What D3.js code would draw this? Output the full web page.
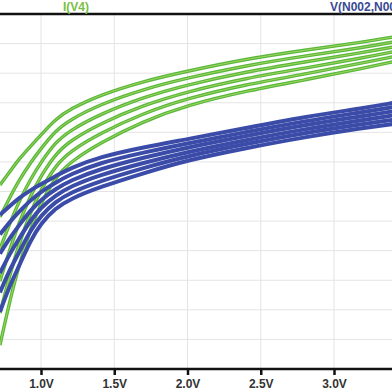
<!DOCTYPE html>
<html>
<head>
<meta charset="utf-8">
<script src="https://cdn.jsdelivr.net/npm/d3@7"></script>
<style>
  body { margin: 0; background: #fff; }
  svg { display: block; }
</style>
</head>
<body>
<div id="chart"></div>
<script>
// sweep voltage (V)
const volts = [0.72, 0.78, 0.85, 0.93, 1.0, 1.1, 1.2, 1.4, 1.7, 2.0, 2.4, 2.8, 3.2, 3.4]

// I(V4) family
const green1 = [62.2, 66.2, 71.0, 75.4, 79.1, 84.5, 87.9, 92.6, 97.3, 100.7, 104.8, 107.8, 110.5, 112.2]
const green2 = [51.4, 57.3, 63.8, 69.9, 74.5, 80.6, 84.3, 89.4, 94.6, 98.4, 102.6, 105.8, 108.7, 110.5]
const green3 = [40.6, 48.4, 56.7, 64.3, 69.9, 76.7, 80.7, 86.1, 91.9, 96.1, 100.5, 103.8, 107.0, 108.8]
const green4 = [29.7, 39.4, 49.5, 58.8, 65.3, 72.7, 77.2, 82.9, 89.2, 93.8, 98.3, 101.7, 105.2, 107.2]
const green5 = [18.9, 30.5, 42.4, 53.2, 60.7, 68.8, 73.6, 79.6, 86.5, 91.5, 96.2, 99.7, 103.5, 105.5]
const green6 = [8.1, 21.6, 35.2, 47.7, 56.1, 64.9, 70.0, 76.4, 83.8, 89.2, 94.0, 97.7, 101.7, 103.8]

// V(N002,N003) family
const blue1 = [52.1, 54.8, 57.8, 60.5, 62.5, 65.2, 67.9, 71.7, 75.0, 77.7, 81.5, 85.2, 88.2, 89.9]
const blue2 = [45.5, 49.3, 53.2, 57.1, 59.9, 63.0, 65.8, 69.7, 73.2, 76.3, 80.1, 83.8, 86.9, 88.5]
const blue3 = [39.0, 43.8, 48.6, 53.7, 57.2, 60.9, 63.7, 67.6, 71.5, 74.9, 78.8, 82.5, 85.5, 87.1]
const blue4 = [32.4, 38.4, 44.0, 50.4, 54.6, 58.7, 61.7, 65.6, 69.7, 73.4, 77.4, 81.1, 84.2, 85.7]
const blue5 = [25.9, 32.9, 39.4, 47.0, 51.9, 56.6, 59.6, 63.5, 68.0, 72.0, 76.1, 79.8, 82.8, 84.2]
const blue6 = [19.3, 27.4, 34.8, 43.6, 49.3, 54.4, 57.5, 61.5, 66.2, 70.6, 74.7, 78.4, 81.5, 82.8]

const xTicks = [1.0, 1.5, 2.0, 2.5, 3.0]
const yGrid = [10, 20, 30, 40, 50, 60, 70, 80, 90, 100, 110]

const width = 392
const height = 392
const plotTop = 14
const plotBottom = 369

const svg = d3.select("#chart")
  .append("svg")
  .attr("width", width)
  .attr("height", height)

const x = d3.scaleLinear()
  .domain([1, 3])
  .range([41, 334])

const y = d3.scaleLinear()
  .domain([0, 120])
  .range([plotBottom, plotTop])

svg.append("clipPath")
  .attr("id", "plot")
  .append("rect")
  .attr("x", 0).attr("y", plotTop)
  .attr("width", width).attr("height", plotBottom - plotTop)

// grid
svg.append("g")
  .selectAll("line")
  .data(yGrid)
  .join("line")
  .attr("x1", 0).attr("x2", width)
  .attr("y1", d => y(d)).attr("y2", d => y(d))
  .attr("stroke", "#e4e4e4")

svg.append("g")
  .selectAll("line")
  .data(xTicks)
  .join("line")
  .attr("x1", d => x(d)).attr("x2", d => x(d))
  .attr("y1", plotTop).attr("y2", plotBottom)
  .attr("stroke", "#e4e4e4")

const line = d3.line()
  .x((d, i) => x(volts[i]))
  .y(d => y(d))
  .curve(d3.curveBasis)

const plot = svg.append("g").attr("clip-path", "url(#plot)")

const greens = [green1, green2, green3, green4, green5, green6]
const blues = [blue1, blue2, blue3, blue4, blue5, blue6]

plot.selectAll("path.g")
  .data(greens)
  .join("path")
  .attr("class", "g")
  .attr("d", line)
  .attr("fill", "none")
  .attr("stroke", "#58b83a")
  .attr("stroke-width", 3.4)

plot.selectAll("path.gh")
  .data(greens)
  .join("path")
  .attr("class", "gh")
  .attr("d", line)
  .attr("fill", "none")
  .attr("stroke", "#d2e67c")
  .attr("stroke-width", 0.8)
  .attr("opacity", 0.75)

plot.selectAll("path.b")
  .data(blues)
  .join("path")
  .attr("class", "b")
  .attr("d", line)
  .attr("fill", "none")
  .attr("stroke", "#3b4ba8")
  .attr("stroke-width", 4)

// frame lines
svg.append("line")
  .attr("x1", 0).attr("x2", width)
  .attr("y1", plotTop).attr("y2", plotTop)
  .attr("stroke", "#111")
  .attr("stroke-width", 2.5)

const xAxis = svg.append("g")
  .attr("transform", `translate(0,${plotBottom})`)
  .call(d3.axisBottom(x)
    .tickValues(xTicks)
    .tickSize(6)
    .tickPadding(4)
    .tickFormat(d => d.toFixed(1) + "V"))

xAxis.select(".domain").remove()
xAxis.append("line")
  .attr("x1", 0).attr("x2", width)
  .attr("stroke", "#111")
  .attr("stroke-width", 2.5)
xAxis.selectAll(".tick line")
  .attr("stroke", "#111")
  .attr("stroke-width", 2.5)
xAxis.selectAll(".tick text")
  .style("font-family", "Liberation Sans, Arial, sans-serif")
  .style("font-size", "12px")
  .style("font-weight", "bold")
  .attr("fill", "#333")

// trace labels
svg.append("text")
  .attr("x", 76).attr("y", 11)
  .attr("text-anchor", "middle")
  .style("font-family", "Liberation Sans, Arial, sans-serif")
  .style("font-size", "12px")
  .style("font-weight", "bold")
  .attr("fill", "#79c043")
  .text("I(V4)")

svg.append("text")
  .attr("x", 330).attr("y", 11)
  .style("font-family", "Liberation Sans, Arial, sans-serif")
  .style("font-size", "12px")
  .style("font-weight", "bold")
  .attr("fill", "#3a4a94")
  .text("V(N002,N003)")
</script>
</body>
</html>
